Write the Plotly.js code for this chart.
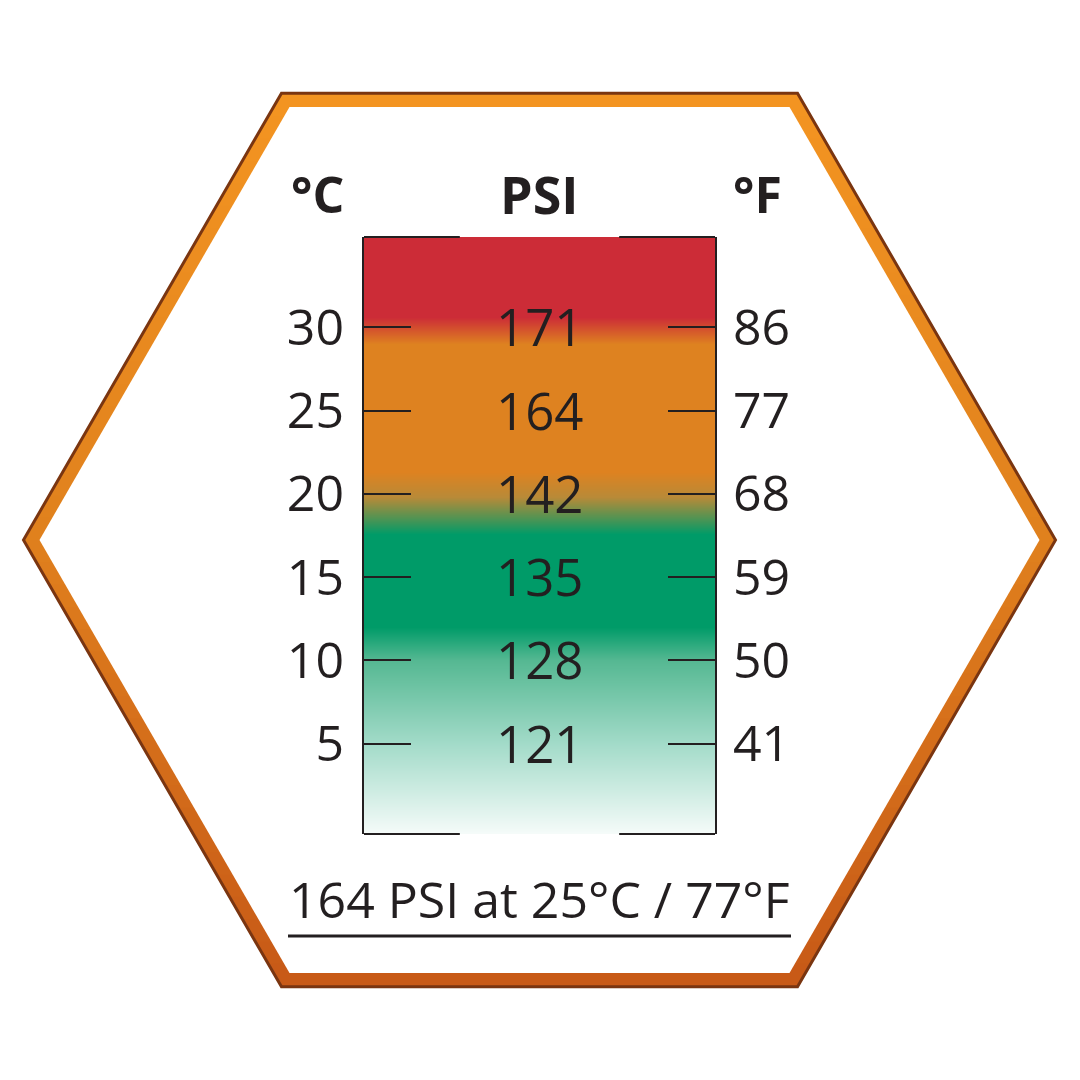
<!DOCTYPE html>
<html>
<head>
<meta charset="utf-8">
<script src="https://cdn.plot.ly/plotly-3.0.1.min.js"></script>
<style>
  html, body { margin: 0; padding: 0; background: #ffffff; }
  #chart { width: 1080px; height: 1080px; }
</style>
</head>
<body>
<div id="chart"></div>
<script>
// tyre pressure scale: temperature in °C, pressure and temperature in °F
var celsius = [5, 10, 15, 20, 25, 30];
var psi = ['121', '128', '135', '142', '164', '171'];
var fahrenheit = ['41', '50', '59', '68', '77', '86'];
var caption = '164 PSI at 25°C / 77°F';

// colour bands of the gauge (°C where each colour sits)
var gradTemps = [-1, 5, 10, 12, 17.6, 19.8, 21.3, 29, 30.6, 36];
var gradColors = ['#ffffff', '#a3dbc9', '#55b892', '#009b68', '#009b68',
                  '#b88a38', '#de8220', '#de8220', '#cc2c37', '#cc2c37'];

var ink = '#231f20';
var W = 1080, H = 1080;

// pixel -> paper helpers
function px(x) { return x / W; }
function py(y) { return 1 - y / H; }

// hexagon frame, drawn as horizontal bands so the orange can fade downwards
var cx = 539.5, cy = 540, Rout = 515, Rin = 500;
function halfW(y, R) { return R - Math.abs(y - cy) / Math.sqrt(3); }
function hexPath(R) {
	var a = R * Math.sqrt(3) / 2;
	var pts = [[cx - R / 2, cy - a], [cx + R / 2, cy - a], [cx + R, cy],
	           [cx + R / 2, cy + a], [cx - R / 2, cy + a], [cx - R, cy]];
	return 'M' + pts.map(function(p){ return px(p[0]) + ',' + py(p[1]); }).join('L') + 'Z';
}
function mix(c1, c2, t) {
	var a = [parseInt(c1.substr(1,2),16), parseInt(c1.substr(3,2),16), parseInt(c1.substr(5,2),16)];
	var b = [parseInt(c2.substr(1,2),16), parseInt(c2.substr(3,2),16), parseInt(c2.substr(5,2),16)];
	return 'rgb(' + a.map(function(v, i){ return Math.round(v + (b[i] - v) * t); }).join(',') + ')';
}

var shapes = [];
var hexTop = cy - Rout * Math.sqrt(3) / 2, hexBot = cy + Rout * Math.sqrt(3) / 2;
var nb = 40, step = (hexBot - hexTop) / nb;
for (var i = 0; i < nb; i++) {
	var y0 = hexTop + i * step, y1 = Math.min(hexBot, y0 + step + 1);
	var pts = [[cx - halfW(y0, Rout), y0], [cx + halfW(y0, Rout), y0]];
	if (y0 < cy && y1 > cy) pts.push([cx + Rout, cy]);
	pts.push([cx + halfW(y1, Rout), y1], [cx - halfW(y1, Rout), y1]);
	if (y0 < cy && y1 > cy) pts.push([cx - Rout, cy]);
	var t = (i + 0.5) / nb;
	shapes.push({
		type: 'path', xref: 'paper', yref: 'paper', layer: 'below',
		path: 'M' + pts.map(function(p){ return px(p[0]) + ',' + py(p[1]); }).join('L') + 'Z',
		fillcolor: t < 0.5 ? mix('#f39421', '#e0801d', t * 2) : mix('#e0801d', '#c75917', (t - 0.5) * 2),
		line: {width: 0}
	});
}
shapes.push({type: 'path', xref: 'paper', yref: 'paper', layer: 'below',
	path: hexPath(Rin), fillcolor: '#ffffff', line: {width: 0}});
shapes.push({type: 'path', xref: 'paper', yref: 'paper', layer: 'below',
	path: hexPath(Rout + 1), fillcolor: 'rgba(0,0,0,0)', line: {color: '#7a3510', width: 3}});

// broken top and bottom edges of the gauge box
[[0, 0.273], [0.727, 1]].forEach(function(seg){
	[0, 1].forEach(function(yy){
		shapes.push({type: 'line', xref: 'x domain', yref: 'y domain', layer: 'above',
			x0: seg[0], x1: seg[1], y0: yy, y1: yy, line: {color: ink, width: 2}});
	});
});
// caption underline
shapes.push({type: 'line', xref: 'paper', yref: 'paper', layer: 'above',
	x0: px(288), x1: px(791), y0: py(936), y1: py(936), line: {color: ink, width: 3}});

var zIdx = gradTemps.map(function(t, i){ return [i, i]; });
var cscale = gradColors.map(function(c, i){ return [i / (gradColors.length - 1), c]; });

var gauge = {
	type: 'heatmap',
	x: [0, 1],
	y: gradTemps,
	z: zIdx,
	zmin: 0, zmax: gradColors.length - 1,
	colorscale: cscale,
	zsmooth: 'best',
	showscale: false,
	hoverinfo: 'skip'
};

var yRange = [-0.42, 35.42];
var textFont = {family: 'Open Sans', size: 50, color: ink, weight: 500};
var boldFont = {family: 'Open Sans', size: 50, color: ink, weight: 700};

// pressure readings sit in the middle of the gauge, on the °C scale
var annotations = celsius.map(function(c, i){
	return {text: psi[i], xref: 'x', yref: 'y', x: 0.5, y: c,
		xanchor: 'center', yanchor: 'middle', yshift: 1, showarrow: false,
		font: {family: 'Open Sans', size: 51, color: ink, weight: 500}};
});
annotations.push(
	{text: '°C', xref: 'paper', yref: 'paper', x: px(346), y: py(194),
	 xanchor: 'right', yanchor: 'middle', showarrow: false, font: boldFont},
	{text: 'PSI', xref: 'paper', yref: 'paper', x: px(539.5), y: py(194),
	 xanchor: 'center', yanchor: 'middle', showarrow: false,
	 font: {family: 'Open Sans', size: 52, color: ink, weight: 700}},
	{text: '°F', xref: 'paper', yref: 'paper', x: px(731), y: py(194),
	 xanchor: 'left', yanchor: 'middle', showarrow: false, font: boldFont},
	{text: caption, xref: 'paper', yref: 'paper', x: px(539.5), y: py(899),
	 xanchor: 'center', yanchor: 'middle', showarrow: false, font: textFont}
);

var layout = {
	width: W, height: H,
	margin: {l: 0, r: 0, t: 0, b: 0},
	paper_bgcolor: '#ffffff',
	plot_bgcolor: 'rgba(0,0,0,0)',
	showlegend: false,
	xaxis: {domain: [px(364), px(715)], range: [0, 1], visible: false, fixedrange: true},
	yaxis: {
		domain: [py(834), py(237)], range: yRange,
		tickvals: celsius, ticktext: celsius.map(String),
		ticks: 'inside', ticklen: 47, tickwidth: 2, tickcolor: ink,
		showline: true, linecolor: ink, linewidth: 2, mirror: 'ticks',
		showgrid: false, zeroline: false,
		tickfont: textFont, ticklabelstandoff: 8
	},
	yaxis2: {
		overlaying: 'y', side: 'right', anchor: 'x', range: yRange,
		tickvals: celsius, ticktext: fahrenheit,
		ticks: '', showline: false, showgrid: false, zeroline: false,
		tickfont: textFont, ticklabelstandoff: 17
	},
	shapes: shapes,
	annotations: annotations
};

// invisible trace so the °F axis has something to scale
var fAxis = {type: 'scatter', mode: 'markers', x: [0.5], y: [celsius[0]], yaxis: 'y2',
	marker: {opacity: 0}, hoverinfo: 'skip', showlegend: false};

Plotly.newPlot('chart', [gauge, fAxis], layout, {staticPlot: true, displayModeBar: false});
</script>
</body>
</html>
